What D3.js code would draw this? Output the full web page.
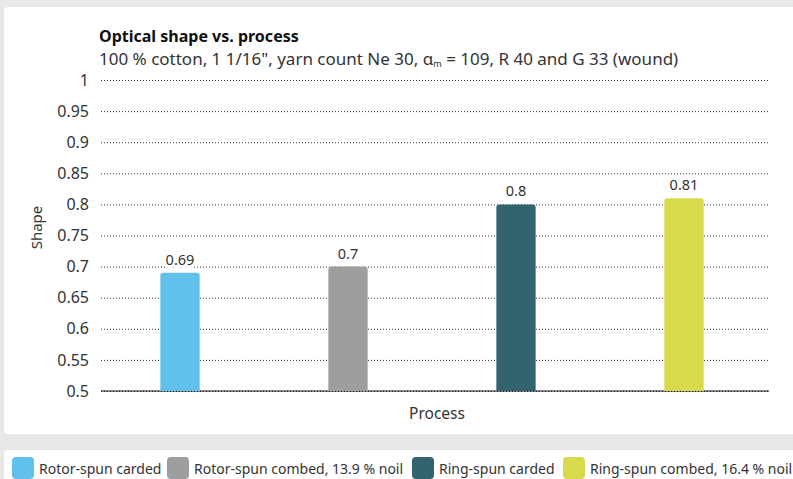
<!DOCTYPE html>
<html>
<head>
<meta charset="utf-8">
<script src="https://cdn.jsdelivr.net/npm/d3@7"></script>
<style>
  body { margin: 0; background: #e8e8e8; }
  svg { display: block; font-family: "Noto Sans", sans-serif; }
</style>
</head>
<body>
<div id="app"></div>
<script>
const categories = ["Rotor-spun carded", "Rotor-spun combed, 13.9 % noil", "Ring-spun carded", "Ring-spun combed, 16.4 % noil"];
const values = [0.69, 0.7, 0.8, 0.81];
const colors = ["#62c1ea", "#9d9ea0", "#33636f", "#d6da4b"];
const yTicks = [0.5, 0.55, 0.6, 0.65, 0.7, 0.75, 0.8, 0.85, 0.9, 0.95, 1];

const W = 793, H = 479;
const plotLeft = 101, plotRight = 769;
const margin = { top: 80, bottom: 88 };

const svg = d3.select("#app").append("svg").attr("width", W).attr("height", H);

// panels
svg.append("rect").attr("x", 4).attr("y", 7).attr("width", W + 10).attr("height", 427)
  .attr("rx", 4).attr("fill", "#fff");
svg.append("rect").attr("x", 4).attr("y", 450).attr("width", W + 10).attr("height", 40)
  .attr("rx", 4).attr("fill", "#fff");

const x = d3.scaleBand().domain(categories).range([96, 768]).paddingInner(0.766).paddingOuter(0.383);
const y = d3.scaleLinear().domain([0.5, 1]).range([H - margin.bottom, margin.top]);

// grid + labels
const yAxis = g => g
  .attr("transform", `translate(${plotLeft},0)`)
  .call(d3.axisLeft(y).tickValues(yTicks).tickFormat(d => d).tickSize(-(plotRight - plotLeft)).tickPadding(12))
  .call(g => g.select(".domain").remove())
  .call(g => g.selectAll(".tick line").attr("stroke", "#333").attr("stroke-dasharray", "1,2"))
  .call(g => g.selectAll(".tick text").attr("fill", "#333").attr("font-size", 16).attr("font-family", "Noto Sans"));
svg.append("g").call(yAxis);

// baseline
svg.append("line").attr("x1", plotLeft).attr("x2", plotRight)
  .attr("y1", y(0.5)).attr("y2", y(0.5)).attr("stroke", "#111").attr("stroke-width", 1.2);

// bars with rounded corners
const r = 3;
const barPath = (x0, w, yt, yb) => `M${x0},${yb} V${yt + r} Q${x0},${yt} ${x0 + r},${yt} H${x0 + w - r} Q${x0 + w},${yt} ${x0 + w},${yt + r} V${yb} Z`;
svg.append("g").selectAll("path").data(categories).join("path")
  .attr("d", (d, i) => barPath(x(d), x.bandwidth(), y(values[i]), y(0.5)))
  .attr("fill", (d, i) => colors[i]);

// value labels (white halo over grid)
svg.append("g").selectAll("text").data(categories).join("text")
  .attr("x", d => x(d) + x.bandwidth() / 2)
  .attr("y", (d, i) => y(values[i]) - 8)
  .attr("text-anchor", "middle").attr("font-size", 14.5).attr("fill", "#333")
  .attr("stroke", "#fff").attr("stroke-width", 6).attr("paint-order", "stroke")
  .text((d, i) => values[i]);

// titles
svg.append("text").attr("x", 99).attr("y", 42).attr("font-size", 16).attr("font-weight", "bold").attr("fill", "#111")
  .text("Optical shape vs. process");
const sub = svg.append("text").attr("x", 99).attr("y", 65).attr("font-size", 17).attr("fill", "#333");
sub.append("tspan").text("100 % cotton, 1 1/16\", yarn count Ne 30, α");
sub.append("tspan").attr("font-size", 9).attr("dy", 2).text("m");
sub.append("tspan").attr("dy", -2).text(" = 109, R 40 and G 33 (wound)");

// axis titles
svg.append("text").attr("transform", `translate(42,${(y(0.5) + y(1)) / 2 - 8}) rotate(-90)`)
  .attr("text-anchor", "middle").attr("font-size", 15).attr("fill", "#333").text("Shape");
svg.append("text").attr("x", 437).attr("y", 419)
  .attr("text-anchor", "middle").attr("font-size", 15.5).attr("fill", "#333").text("Process");

// legend
const legendX = [12, 167, 412, 563];
const lg = svg.append("g").selectAll("g").data(categories).join("g")
  .attr("transform", (d, i) => `translate(${legendX[i]},457)`);
lg.append("rect").attr("width", 22).attr("height", 22).attr("rx", 4).attr("fill", (d, i) => colors[i]);
lg.append("text").attr("x", 27).attr("y", 17).attr("font-size", 14).attr("fill", "#333").text(d => d);
</script>
</body>
</html>
